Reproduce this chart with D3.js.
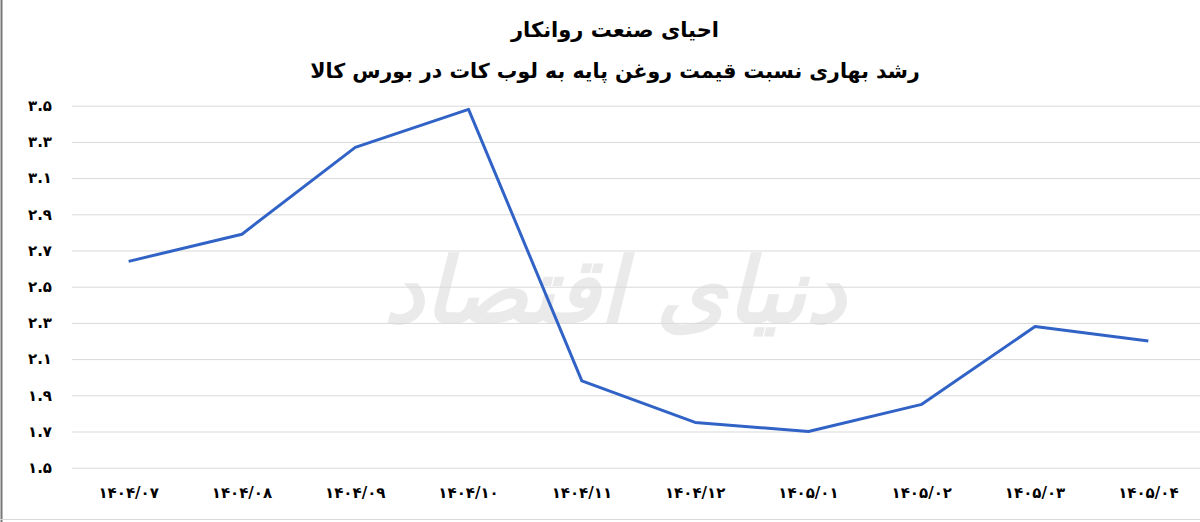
<!DOCTYPE html>
<html><head><meta charset="utf-8">
<script src="https://cdn.jsdelivr.net/npm/d3@7"></script>
<style>html,body{margin:0;padding:0;background:#fff;}svg{display:block;}</style>
</head><body>
<script>
const categories = ["۱۴۰۴/۰۷","۱۴۰۴/۰۸","۱۴۰۴/۰۹","۱۴۰۴/۱۰","۱۴۰۴/۱۱","۱۴۰۴/۱۲","۱۴۰۵/۰۱","۱۴۰۵/۰۲","۱۴۰۵/۰۳","۱۴۰۵/۰۴"];
const values = [2.64, 2.79, 3.27, 3.48, 1.98, 1.75, 1.70, 1.85, 2.28, 2.20];
const yTicks = [1.5, 1.7, 1.9, 2.1, 2.3, 2.5, 2.7, 2.9, 3.1, 3.3, 3.5];
const yTickLabels = ["۱.۵","۱.۷","۱.۹","۲.۱","۲.۳","۲.۵","۲.۷","۲.۹","۳.۱","۳.۳","۳.۵"];
const title = "احیای صنعت روانکار";
const subtitle = "رشد بهاری نسبت قیمت روغن پایه به لوب کات در بورس کالا";
const watermark = "دنیای اقتصاد";

const W = 1200, H = 522;
const svg = d3.select("body").append("svg").attr("width", W).attr("height", H);
svg.append("rect").attr("width", W).attr("height", H).attr("fill", "#fff");

const x = d3.scaleBand().domain(categories).range([72, 1205]);
const y = d3.scaleLinear().domain([1.5, 3.5]).range([467.7, 105.7]);

// borders
svg.append("line").attr("x1", 1.5).attr("x2", 1.5).attr("y1", 0).attr("y2", H).attr("stroke", "#777").attr("stroke-width", 2);
svg.append("line").attr("x1", 0).attr("x2", W).attr("y1", 519.5).attr("y2", 519.5).attr("stroke", "#d9d9d9").attr("stroke-width", 1);

// watermark
svg.append("text").attr("x", 615).attr("y", 322).attr("text-anchor", "middle")
  .attr("font-family", "DejaVu Sans").attr("font-weight", "bold").attr("font-size", 90)
  .attr("font-style", "italic")
  .attr("fill", "#eaeaea").attr("direction", "rtl").text(watermark);

// gridlines
const yAxis = d3.axisLeft(y).tickValues(yTicks).tickSize(-(W - 72)).tickFormat((d, i) => yTickLabels[i]);
const gy = svg.append("g").attr("transform", "translate(72,0)").call(yAxis);
gy.select(".domain").remove();
gy.selectAll(".tick line").attr("stroke", "#d9d9d9").attr("stroke-width", 1);
gy.selectAll(".tick text").attr("x", -20).attr("fill", "#000")
  .attr("font-family", "DejaVu Sans").attr("font-weight", "bold").attr("font-size", 15);

// x axis labels
const xAxis = d3.axisBottom(x).tickSize(0).tickPadding(0);
const gx = svg.append("g").attr("transform", "translate(0,486)").call(xAxis);
gx.select(".domain").remove();
gx.selectAll(".tick text").attr("fill", "#000").attr("dy", "0.35em").attr("y", 7)
  .attr("font-family", "DejaVu Sans").attr("font-weight", "bold").attr("font-size", 15);

// line
const line = d3.line().x((d, i) => x(categories[i]) + x.bandwidth() / 2).y(d => y(d));
svg.append("path").datum(values).attr("d", line).attr("fill", "none")
  .attr("stroke", "#3163c6").attr("stroke-width", 3).attr("stroke-linejoin", "round").attr("stroke-linecap", "butt");

// titles
svg.append("text").attr("x", 615).attr("y", 37).attr("text-anchor", "middle").attr("direction", "rtl")
  .attr("font-family", "DejaVu Sans").attr("font-weight", "bold").attr("font-size", 21).attr("fill", "#000").text(title);
svg.append("text").attr("x", 615).attr("y", 78).attr("text-anchor", "middle").attr("direction", "rtl")
  .attr("font-family", "DejaVu Sans").attr("font-weight", "bold").attr("font-size", 20.5).attr("fill", "#000").text(subtitle);
</script>
</body></html>
